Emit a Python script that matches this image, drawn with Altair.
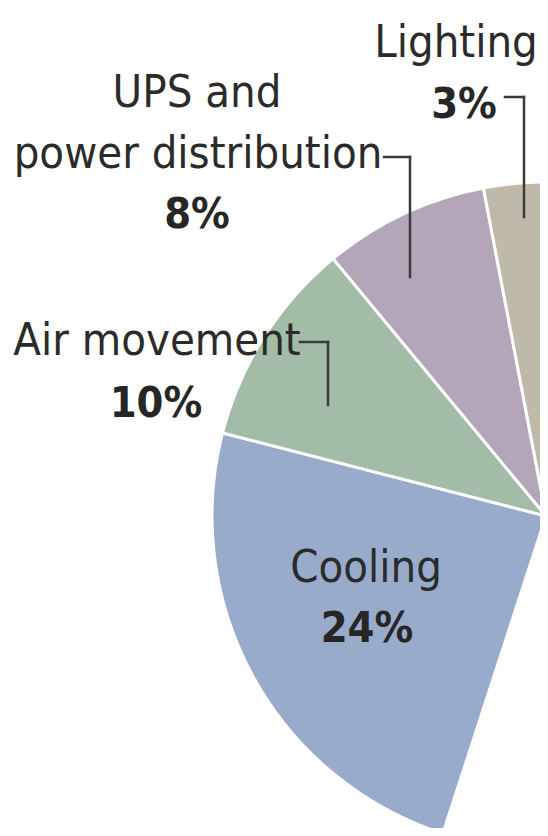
import altair as alt
import pandas as pd

# ---- data ----
categories = ["IT equipment", "Cooling", "Air movement", "UPS and power distribution", "Lighting"]
shares = [55, 24, 10, 8, 3]
colors = ["#ffffff", "#99abca", "#a3bca8", "#b3a6b9", "#bfb9a9"]

pie_df = pd.DataFrame({
    "category": categories,
    "share": shares,
    "idx": list(range(len(categories))),
})

# ---- annotation layout (pixel positions in the chart) ----
label_lines = ["Lighting", "3%", "UPS and", "power distribution", "8%",
               "Air movement", "10%", "Cooling", "24%"]
label_x = [448, 456, 189, 190, 189, 149, 148, 358, 359]
label_y = [49, 110, 99, 160, 220, 347, 409, 574, 634]
label_bold = [False, True, False, False, True, False, True, False, True]

seg_x = [497, 516, 376, 402, 292, 320]
seg_y = [89, 89, 149, 149, 334, 334]
seg_x2 = [516, 516, 402, 402, 320, 320]
seg_y2 = [89, 209, 149, 269, 334, 397]

CX, CY, R = 538, 508, 334
FONT = "DejaVu Sans Condensed, sans-serif"

pie = alt.Chart(pie_df).mark_arc(
    radius=R, stroke="white", strokeWidth=3
).encode(
    theta=alt.Theta("share:Q", stack=True, scale=alt.Scale(domain=[0, 100])),
    order=alt.Order("idx:Q"),
    color=alt.Color("category:N", scale=alt.Scale(domain=categories, range=colors), legend=None),
    x=alt.value(CX),
    y=alt.value(CY),
)

lab_df = pd.DataFrame({"t": label_lines, "x": label_x, "y": label_y, "bold": label_bold})

text_reg = alt.Chart(lab_df).transform_filter("!datum.bold").mark_text(
    font=FONT, fontSize=45, color="#2b2b2b", align="center", baseline="alphabetic"
).encode(
    x=alt.X("x:Q", scale=None),
    y=alt.Y("y:Q", scale=None),
    text="t:N",
)

text_bold = alt.Chart(lab_df).transform_filter("datum.bold").mark_text(
    font=FONT, fontSize=43, fontWeight="bold", color="#262626", align="center", baseline="alphabetic"
).encode(
    x=alt.X("x:Q", scale=None),
    y=alt.Y("y:Q", scale=None),
    text="t:N",
)

seg_df = pd.DataFrame({"x": seg_x, "y": seg_y, "x2": seg_x2, "y2": seg_y2})
leaders = alt.Chart(seg_df).mark_rule(color="#3a3a3a", strokeWidth=2.5, strokeCap="square").encode(
    x=alt.X("x:Q", scale=None),
    y=alt.Y("y:Q", scale=None),
    x2="x2:Q",
    y2="y2:Q",
)

chart = alt.layer(pie, leaders, text_reg, text_bold).properties(
    width=532, height=820,
    autosize=alt.AutoSizeParams(type="none"),
    padding=0,
    background="white",
).configure_view(stroke=None)

chart.save("out.html", embed_options={"renderer": "svg", "actions": False})
